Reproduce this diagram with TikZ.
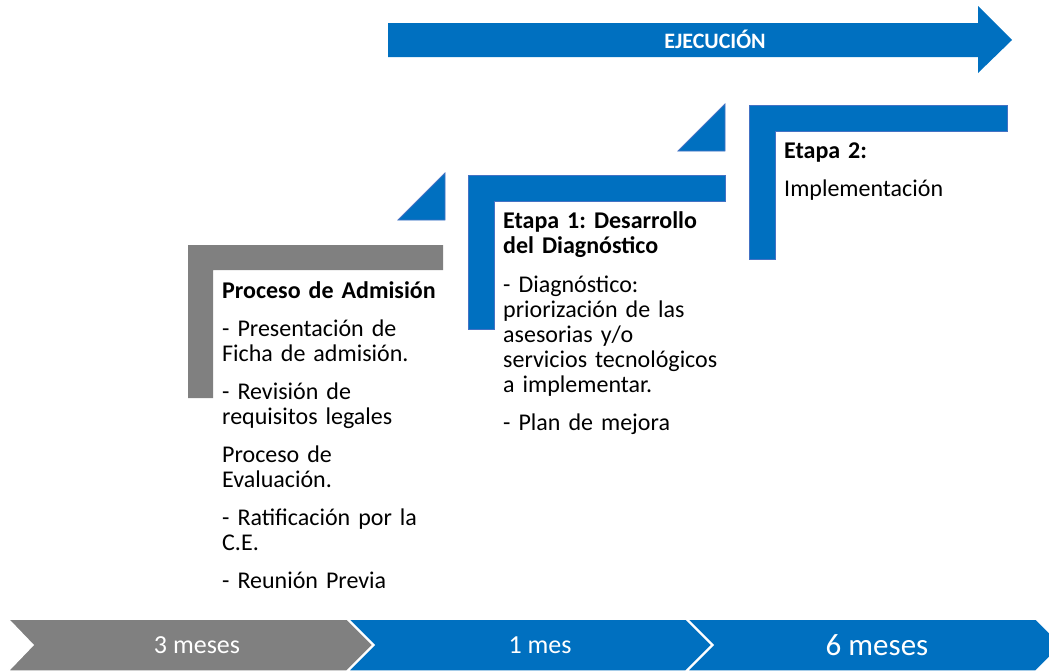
\documentclass[tikz,border=0pt]{standalone}
\usepackage{fontspec}
\setmainfont{Carlito}
\usepackage{tikz}
\frenchspacing

\definecolor{azul}{RGB}{0,112,192}
\definecolor{bordeazul}{RGB}{68,114,196}
\definecolor{gris}{RGB}{128,128,128}

\tikzset{
  escalon/.style={fill=azul, draw=bordeazul, line width=0.8pt},
  texto/.style={anchor=base west, inner sep=0pt, text width=250pt, align=left,
    font=\fontsize{24}{25}\selectfont},
  chevron/.style={draw=white, line width=1.5pt},
  plazo/.style={anchor=base, inner sep=0pt, text=white, font=\fontsize{26}{26}\selectfont}
}

\begin{document}
\begin{tikzpicture}[x=1pt,y=-1pt]
\useasboundingbox (0,0) rectangle (1049,670);
\clip (0,0) rectangle (1049,670);
%flecha
\fill[azul] (388,23) -- (978,23) -- (978,6) -- (1012,40) -- (978,73) -- (978,57) -- (388,57) -- cycle;
\node[anchor=base, inner sep=0pt, text=white, font=\bfseries\fontsize{22}{22}\selectfont] (ejecucion) at (715,48) {EJECUCIÓN};
%escalones
\fill[gris] (188,245) -- (443,245) -- (443,270) -- (213,270) -- (213,398) -- (188,398) -- cycle;
\draw[escalon] (468,175) -- (725,175) -- (725,201) -- (494,201) -- (494,329) -- (468,329) -- cycle;
\draw[escalon] (749,105) -- (1007,105) -- (1007,131) -- (775,131) -- (775,259) -- (749,259) -- cycle;
\draw[escalon] (398,220) -- (445,220) -- (445,173) -- cycle;
\draw[escalon] (678,151) -- (725,151) -- (725,104) -- cycle;
%textos
\node[texto] (admision) at (222,298) {\textbf{Proceso de Admisión}\\[13pt]
  - Presentación de\\ Ficha de admisión.\\[13pt]
  - Revisión de\\ requisitos legales\\[13pt]
  Proceso de\\ Evaluación.\\[13pt]
  - Ratificación por la\\ C.E.\\[13pt]
  - Reunión Previa};
\node[texto] (etapa1) at (503,228) {\textbf{Etapa 1: Desarrollo}\\ \textbf{del Diagnóstico}\\[14pt]
  - Diagnóstico:\\ priorización de las\\ asesorias y/o\\ servicios tecnológicos\\ a implementar.\\[13pt]
  - Plan de mejora};
\node[texto] (etapa2) at (784,158) {\textbf{Etapa 2:}\\[13pt]
  Implementación};
%plazos
\fill[gris, chevron] (8,619) -- (347,619) -- (373,645) -- (347,671) -- (8,671) -- (33,645) -- cycle;
\fill[azul, chevron] (348,619) -- (686,619) -- (712,645) -- (686,671) -- (348,671) -- (374,645) -- cycle;
\fill[azul, chevron] (687,619) -- (1036,619) -- (1062,645) -- (1036,671) -- (687,671) -- (713,645) -- cycle;
\node[plazo] (plazo1) at (197,653) {3 meses};
\node[plazo] (plazo2) at (540,653) {1 mes};
\node[plazo, font=\fontsize{31}{31}\selectfont] (plazo3) at (877,655) {6 meses};
\end{tikzpicture}
\end{document}
